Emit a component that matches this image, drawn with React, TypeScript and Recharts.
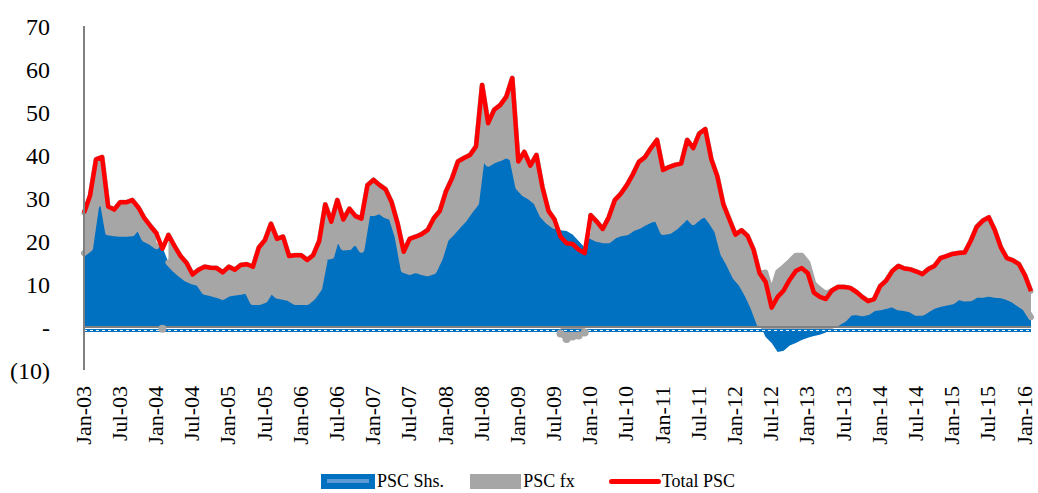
import React from "react";
import {
  ComposedChart,
  Area,
  Line,
  XAxis,
  YAxis,
  ReferenceLine,
  Legend,
} from "recharts";

const MONTHS = ["Jan", "Feb", "Mar", "Apr", "May", "Jun", "Jul", "Aug", "Sep", "Oct", "Nov", "Dec"];
const FIRST_YEAR = 3;

const shs = [
  17.2, 18.3, 28, 30, 22, 21.8, 21.7, 21.7, 21.8, 23.5, 20.5, 19.8,
  18.8, 18.6, 15, 13.5, 12.3, 11.2, 10.6, 10.2, 8.2, 7.9, 7.5, 7,
  7.8, 8, 8.2, 8.6, 5.8, 5.8, 6.3, 8.6, 7.3, 7, 6.7, 5.8,
  5.8, 5.8, 7, 9, 16.3, 16.5, 21.4, 18.5, 18.6, 20.2, 18, 26.5,
  26.5, 27, 26, 25.5, 21, 13.3, 12.8, 13.3, 12.8, 12.5, 13, 16,
  20.5, 21.9, 23.5, 25, 27, 28.8, 40, 38, 38.8, 39.3, 40, 39.3,
  32.5, 31, 30.2, 29, 26, 24.5, 23.5, 22.5, 22.3, 21.5, 20, 18.5,
  21.2, 20.5, 20.2, 20.2, 21.3, 21.8, 22, 23, 23.5, 24.3, 25, 25.3,
  22.1, 22.3, 23.2, 24.5, 26, 24.4, 25.6, 26.3, 24.5, 22.3, 17, 14.5,
  11.6, 10, 7.5, 4.5, 0.7, -2.3, -3.7, -5.8, -5.5, -4.3, -3.7, -3,
  -2.5, -2.1, -1.8, -1.3, 0.3, 1, 1.8, 3.3, 3.5, 3.2, 3.5, 4.4,
  4.6, 4.9, 5.3, 4.6, 4.4, 4.1, 3.3, 3.3, 4.2, 5, 5.4, 5.7,
  6, 7, 6.6, 6.7, 7.5, 7.5, 7.8, 7.5, 7.4, 7, 6.4, 5.4,
  4.5, 2.3,
];

const fx = [
  9.3, 12.2, 11, 9.5, 6, 5.5, 7.3, 7.3, 7.7, 4.3, 4.8, 3.7,
  3, -0.4, 6.4, 5.3, 4.2, 3.7, 1.6, 3.1, 5.8, 5.9, 6.2, 5.7,
  6.2, 5.3, 6.2, 6, 8.2, 12.7, 13.9, 15.4, 13.2, 14, 9.8, 10.9,
  10.9, 9.8, 9.7, 11, 12.2, 8, 8.1, 6.5, 8.9, 5.6, 7.2, 6.5,
  7.7, 6, 6, 3.5, 3, 4.2, 7.7, 7.7, 8.8, 10.1, 12.3, 11,
  11, 12.6, 15, 14.3, 13, 13.2, 16.3, 9.4, 11.7, 12.3, 13.5, 18.6,
  6, 9.7, 7.3, 11, 6.5, 2.5, 1.5, -1.5, -2.8, -2.2, -2, -1.3,
  4.8, 4, 2.6, 5.3, 8.2, 9.2, 11, 12.5, 14.9, 15.2, 16.6, 18.2,
  14.4, 14.9, 14.5, 13.5, 17.5, 17.2, 19.4, 19.7, 14.5, 12.7, 11.5, 10.5,
  9.9, 12.5, 13.7, 13.5, 11.8, 12.8, 8.2, 12.8, 14, 15.3, 16.7, 16.7,
  15, 10.1, 8.8, 7.8, 8.2, 8.3, 7.5, 5.8, 4.7, 3.8, 2.5, 2.1,
  4.9, 5.9, 7.7, 9.6, 9.2, 9.3, 9.6, 9, 9.3, 9.2, 10.6, 10.8,
  11, 10.2, 10.7, 13.3, 15.8, 17.2, 17.7, 15, 11.1, 9, 9.1, 9.2,
  7.5, 6,
];

const total = [
  26.5, 30.5, 39, 39.5, 28, 27.3, 29, 29, 29.5, 27.8, 25.3, 23.5,
  21.8, 18.2, 21.4, 18.8, 16.5, 14.9, 12.2, 13.3, 14, 13.8, 13.7, 12.7,
  14, 13.3, 14.4, 14.6, 14, 18.5, 20.2, 24, 20.5, 21, 16.5, 16.7,
  16.7, 15.6, 16.7, 20, 28.5, 24.5, 29.5, 25, 27.5, 25.8, 25.2, 33,
  34.2, 33, 32, 29, 24, 17.5, 20.5, 21, 21.6, 22.6, 25.3, 27,
  31.5, 34.5, 38.5, 39.3, 40, 42, 56.3, 47.4, 50.5, 51.6, 53.5, 57.9,
  38.5, 40.7, 37.5, 40, 32.5, 27, 25, 21, 19.5, 19.3, 18, 17.2,
  26, 24.5, 22.8, 25.5, 29.5, 31, 33, 35.5, 38.4, 39.5, 41.6, 43.5,
  36.5, 37.2, 37.7, 38, 43.5, 41.6, 45, 46, 39, 35, 28.5, 25,
  21.5, 22.5, 21.2, 18, 12.5, 10.5, 4.5, 7, 8.5, 11, 13, 13.7,
  12.5, 8, 7, 6.5, 8.5, 9.3, 9.3, 9.1, 8.2, 7, 6, 6.5,
  9.5, 10.8, 13, 14.2, 13.6, 13.4, 12.9, 12.3, 13.5, 14.2, 16, 16.5,
  17, 17.2, 17.3, 20, 23.3, 24.7, 25.5, 22.5, 18.5, 16, 15.5, 14.6,
  12, 8.3,
];

const yTicks = [-10, 0, 10, 20, 30, 40, 50, 60, 70];

const BLUE = "#0070C0";
const GRAY = "#A6A6A6";
const RED = "#FF0000";
const FONT = "'Palatino Linotype', 'Book Antiqua', Palatino, 'Liberation Serif', serif";

const months = shs.map(
  (_, i) => `${MONTHS[i % 12]}-${String(FIRST_YEAR + Math.floor(i / 12)).padStart(2, "0")}`
);

// fx is split so that negative months stack below zero on their own,
// and the grey outline along the bottom of the fx band is drawn as a line
const data = months.map((month, i) => ({
  month,
  shs: shs[i],
  fxPos: fx[i] >= 0 ? fx[i] : null,
  fxNeg: fx[i] < 0 ? fx[i] : null,
  fxEdge: fx[i] >= 0 ? Math.max(shs[i], 0) : null,
  total: total[i],
}));

const formatY = (v: number) => (v === 0 ? "-" : v < 0 ? `(${-v})` : `${v}`);

const MonthTick = ({ x, y, payload }: any) => {
  const ty = y + 8;
  return (
    <text
      x={x}
      y={ty}
      transform={`rotate(-90 ${x} ${ty})`}
      textAnchor="end"
      dy="0.3em"
      fontFamily={FONT}
      fontSize={22}
      fill="#000"
    >
      {payload.value}
    </text>
  );
};

const renderLegend = () => (
  <div
    style={{
      display: "flex",
      justifyContent: "center",
      alignItems: "center",
      fontFamily: FONT,
      fontSize: 18,
      lineHeight: "20px",
      color: "#000",
      paddingTop: 26,
      marginLeft: 25,
    }}
  >
    <span
      style={{
        width: 54,
        height: 15,
        background: BLUE,
        display: "inline-flex",
        alignItems: "center",
        justifyContent: "center",
      }}
    >
      <span style={{ width: 42, height: 4, background: "#5B9BD5" }} />
    </span>
    <span style={{ marginLeft: 2, marginRight: 26 }}>PSC Shs.</span>
    <span style={{ width: 51, height: 15, background: GRAY, display: "inline-block" }} />
    <span style={{ marginLeft: 2, marginRight: 34 }}>PSC fx</span>
    <span style={{ width: 52, height: 5, background: RED, borderRadius: 3, display: "inline-block" }} />
    <span style={{ marginLeft: 1 }}>Total PSC</span>
  </div>
);

export default function App() {
  return (
    <div style={{ position: "absolute", left: 0, top: 0, background: "#fff" }}>
      <ComposedChart
        width={1038}
        height={493}
        data={data}
        stackOffset="sign"
        margin={{ top: 26, right: 7, bottom: 0, left: 0 }}
      >
        <XAxis
          dataKey="month"
          interval={5}
          axisLine={false}
          tickLine={false}
          tick={<MonthTick />}
          height={75}
        />
        <YAxis
          domain={[-10, 70]}
          ticks={yTicks}
          tickFormatter={formatY}
          width={84}
          axisLine={{ stroke: "#808080", strokeWidth: 2 }}
          tickLine={false}
          tickMargin={28}
          tick={{ fontFamily: FONT, fontSize: 24, fill: "#000" }}
        />
        <Area
          type="linear"
          dataKey="shs"
          stackId="psc"
          fill={BLUE}
          fillOpacity={1}
          stroke="none"
          isAnimationActive={false}
        />
        <Area
          type="linear"
          dataKey="fxPos"
          stackId="psc"
          fill={GRAY}
          fillOpacity={1}
          stroke={GRAY}
          strokeWidth={5}
          strokeLinejoin="round"
          strokeLinecap="round"
          isAnimationActive={false}
        />
        <Area
          type="linear"
          dataKey="fxNeg"
          stackId="psc"
          fill={GRAY}
          fillOpacity={1}
          stroke={GRAY}
          strokeWidth={5}
          strokeLinejoin="round"
          strokeLinecap="round"
          dot={{ r: 4, fill: GRAY, stroke: "none" }}
          isAnimationActive={false}
        />
        <Line
          type="linear"
          dataKey="fxEdge"
          stroke={GRAY}
          strokeWidth={6}
          strokeLinejoin="round"
          strokeLinecap="round"
          dot={false}
          legendType="none"
          isAnimationActive={false}
        />
        <ReferenceLine y={-0.8} stroke={BLUE} strokeWidth={3} />
        <ReferenceLine y={-0.8} stroke="#ffffff" strokeWidth={1} strokeDasharray="3 3" />
        <ReferenceLine y={0} stroke="#808080" strokeWidth={2} />
        <Line
          type="linear"
          dataKey="total"
          stroke={RED}
          strokeWidth={4.5}
          strokeLinejoin="round"
          dot={false}
          isAnimationActive={false}
        />
        <Legend content={renderLegend} verticalAlign="bottom" height={48} />
      </ComposedChart>
    </div>
  );
}
